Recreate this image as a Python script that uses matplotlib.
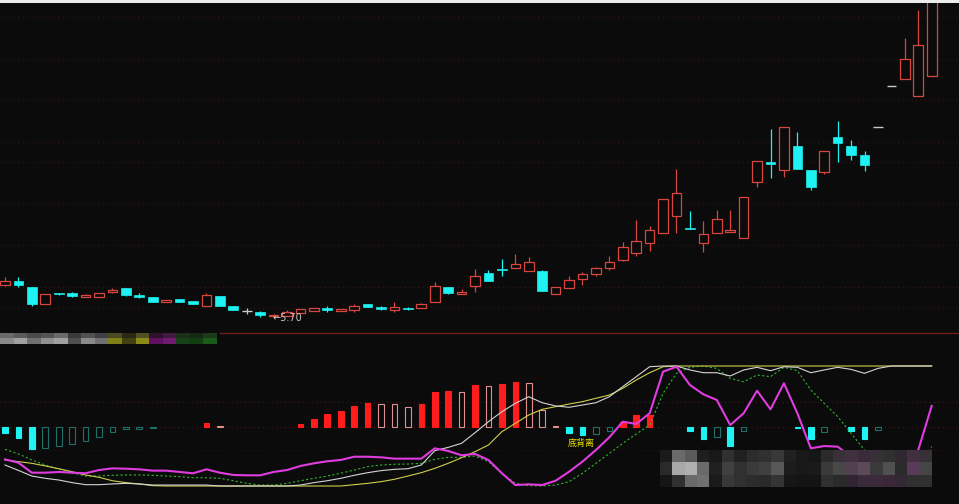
import numpy as np
import matplotlib.pyplot as plt
from matplotlib.patches import Rectangle
from matplotlib.lines import Line2D
from matplotlib.colors import to_rgb

# daily k-line data
opens = [6.02, 6.06, 6.00, 5.83, 5.94, 5.94, 5.90, 5.90, 5.95, 5.99,
         5.92, 5.90, 5.85, 5.88, 5.86, 5.82, 5.91, 5.82, 5.77, 5.76,
         5.72, 5.72, 5.75, 5.77, 5.80, 5.77, 5.78, 5.83, 5.81, 5.78,
         5.80, 5.80, 5.85, 6.00, 5.93, 6.01, 6.13, 6.17, 6.18, 6.15,
         6.15, 5.93, 5.99, 6.08, 6.12, 6.18, 6.26, 6.33, 6.42, 6.52,
         6.68, 6.57, 6.42, 6.52, 6.53, 6.47, 7.01, 7.20, 7.13, 7.36,
         7.13, 7.11, 7.44, 7.36, 7.27, 7.54, 7.94, 8.00, 7.84, 8.03]
closes = [6.06, 6.02, 5.83, 5.93, 5.93, 5.91, 5.92, 5.94, 5.97, 5.92,
          5.90, 5.85, 5.87, 5.85, 5.83, 5.92, 5.82, 5.78, 5.77, 5.73,
          5.73, 5.76, 5.79, 5.80, 5.78, 5.79, 5.82, 5.81, 5.79, 5.81,
          5.79, 5.83, 6.01, 5.94, 5.95, 6.10, 6.06, 6.16, 6.22, 6.24,
          5.96, 6.00, 6.07, 6.12, 6.18, 6.24, 6.38, 6.44, 6.55, 6.85,
          6.90, 6.56, 6.51, 6.65, 6.55, 6.87, 7.21, 7.18, 7.54, 7.14,
          6.96, 7.31, 7.39, 7.27, 7.17, 7.54, 7.94, 8.20, 8.33, 8.80]
highs = [6.09, 6.09, 6.00, 5.93, 5.94, 5.95, 5.93, 5.94, 5.99, 5.99,
         5.94, 5.90, 5.87, 5.88, 5.86, 5.94, 5.91, 5.82, 5.80, 5.77,
         5.74, 5.78, 5.79, 5.80, 5.82, 5.79, 5.83, 5.83, 5.82, 5.85,
         5.81, 5.84, 6.05, 6.00, 5.98, 6.17, 6.16, 6.27, 6.32, 6.29,
         6.16, 6.00, 6.10, 6.14, 6.19, 6.30, 6.43, 6.64, 6.59, 6.85,
         7.14, 6.73, 6.63, 6.74, 6.74, 6.87, 7.21, 7.52, 7.54, 7.49,
         7.13, 7.31, 7.60, 7.42, 7.31, 7.54, 7.94, 8.40, 8.67, 8.85]
lows = [6.01, 6.00, 5.82, 5.83, 5.92, 5.90, 5.90, 5.90, 5.94, 5.91,
        5.89, 5.85, 5.85, 5.85, 5.83, 5.82, 5.82, 5.78, 5.74, 5.71,
        5.70, 5.72, 5.75, 5.77, 5.76, 5.77, 5.76, 5.81, 5.78, 5.76,
        5.78, 5.80, 5.85, 5.93, 5.93, 5.95, 6.06, 6.10, 6.18, 6.15,
        5.96, 5.93, 5.99, 6.02, 6.10, 6.16, 6.25, 6.30, 6.35, 6.52,
        6.52, 6.56, 6.34, 6.52, 6.53, 6.47, 6.96, 7.05, 7.06, 7.14,
        6.93, 7.09, 7.20, 7.22, 7.12, 7.54, 7.94, 8.00, 7.84, 8.03]
price_grid = [5.8, 6.0, 6.4, 6.8, 7.2, 7.4, 7.8, 8.2, 8.6]

# indicator histogram (0 = no bar)
hist = [-0.06, -0.11, -0.215, -0.21, -0.19, -0.17, -0.14, -0.10, -0.05, -0.02,
        -0.015, -0.01, 0, 0, 0, 0.04, 0.01, 0, 0, 0,
        0, 0, 0.035, 0.08, 0.13, 0.16, 0.21, 0.24, 0.235, 0.232,
        0.20, 0.23, 0.355, 0.36, 0.35, 0.42, 0.41, 0.43, 0.45, 0.44,
        0.17, 0.01, -0.055, -0.075, -0.065, -0.04, 0.055, 0.12, 0.125, 0,
        0, -0.04, -0.12, -0.10, -0.19, -0.04, 0, 0, 0, -0.01,
        -0.12, -0.05, 0, -0.035, -0.12, -0.025, 0, 0, 0, 0]

# indicator lines, 0-100 scale
pink_line = [22.2, 19.4, 11.1, 11.1, 11.7, 11.1, 10.6, 13.3, 14.7, 14.4,
             13.9, 12.8, 12.8, 11.7, 10.6, 13.9, 11.1, 9.2, 8.9, 8.9,
             11.7, 13.3, 16.7, 18.9, 20.6, 21.7, 24.4, 24.4, 23.9, 22.8,
             22.8, 22.8, 31.4, 29.2, 25.6, 26.7, 21.7, 10.6, 0.8, 1.4,
             0.8, 4.4, 11.9, 20.3, 30.0, 40.6, 53.6, 51.7, 60.6, 95.3,
             99.4, 84.2, 76.4, 71.7, 50.8, 60.6, 79.4, 63.9, 85.6, 60.6,
             31.4, 33.3, 32.8, 24.4, 12.0, 6.0, 3.0, 2.0, 30.0, 66.7]
white_line = [17.5, 13.0, 8.3, 6.4, 5.0, 2.8, 1.1, 1.1, 1.7, 2.2,
              1.7, 0.8, 0.8, 0.8, 0.8, 0.8, 0.0, 0.0, 0.0, 0.0,
              0.0, 0.0, 0.8, 2.8, 4.4, 6.4, 8.9, 11.1, 12.8, 13.9,
              14.4, 17.5, 29.4, 32.2, 35.6, 44.4, 53.6, 61.9, 68.9, 74.4,
              69.4, 66.7, 65.6, 67.5, 69.4, 74.4, 82.8, 91.1, 99.4, 100,
              100, 96.7, 94.4, 94.4, 91.7, 96.7, 98.9, 96.1, 99.4, 98.9,
              94.4, 96.7, 98.9, 97.2, 93.9, 98.0, 100, 100, 100, 100]
yellow_line = [21.7, 20.3, 18.9, 16.7, 14.4, 11.9, 9.2, 7.2, 4.4, 2.8,
               1.7, 0.3, 0, 0, 0, 0, 0, 0, 0, 0,
               0, 0, 0, 0, 0, 0, 1.1, 2.2, 3.6, 5.6,
               8.3, 11.1, 14.7, 18.9, 23.6, 28.6, 34.2, 45.3, 52.2, 59.2,
               63.9, 66.1, 68.3, 70.3, 73.1, 75.8, 81.4, 88.3, 94.4, 99.4,
               100, 100, 100, 100, 100, 100, 100, 100, 100, 100,
               100, 100, 100, 100, 100, 100, 100, 100, 100, 100]
green_line = [30.6, 26.7, 21.7, 17.5, 13.9, 11.1, 8.3, 8.3, 8.9, 9.2,
              9.2, 8.9, 8.3, 7.8, 6.9, 6.9, 6.4, 4.4, 2.2, 0.8,
              0.8, 2.2, 4.4, 6.4, 8.3, 10.6, 13.3, 16.1, 17.5, 18.1,
              18.3, 18.9, 22.2, 23.9, 23.9, 25.0, 20.3, 10.6, 2.2, 0.3,
              0.0, 0.8, 3.6, 10.6, 18.9, 27.2, 35.6, 43.3, 50.8, 77.2,
              93.9, 98.9, 100, 98.0, 89.7, 86.9, 92.5, 91.1, 98.9, 96.1,
              80.0, 68.9, 57.8, 43.9, 30.0, 18.9, 10.0, 8.0, 10.0, 32.8]
signal_day = 42.9
signal_text = '底背离'

W, H = 959, 504
BG = '#0b0b0b'
RED = '#d8463f'
CYAN = '#1ef2f2'
FLAT = '#c8c8c8'
GRID = '#3c1616'
XLIM = (-0.372, 71.035)


def px_rect(x0, y0, x1, y1):
    # pixel box measured from the top-left corner -> figure fraction
    return [x0 / W, 1 - y1 / H, (x1 - x0) / W, (y1 - y0) / H]


def bare(a):
    a.set_xticks([])
    a.set_yticks([])
    for s in a.spines.values():
        s.set_visible(False)


fig = plt.figure(figsize=(W / 100, H / 100), dpi=100, facecolor='#ececec')

# ---- price panel ----
ax = fig.add_axes(px_rect(0, 3, W, 333))
ax.set_facecolor(BG)
bare(ax)
ax.set_xlim(*XLIM)
ax.set_ylim(5.555, 8.736)
for p in price_grid:
    ax.axhline(p, color=GRID, lw=0.8, ls=(0, (1, 3)), zorder=0)

bw = 0.72
for i, (o, c, h, l) in enumerate(zip(opens, closes, highs, lows)):
    if c > o:
        ax.vlines(i, c, h, color=RED, lw=0.9)
        ax.vlines(i, l, o, color=RED, lw=0.9)
        ax.add_patch(Rectangle((i - bw / 2, o), bw, c - o, facecolor=BG,
                               edgecolor=RED, lw=0.9))
    elif c < o:
        ax.vlines(i, l, h, color=CYAN, lw=0.9)
        ax.add_patch(Rectangle((i - bw / 2, c), bw, o - c, facecolor=CYAN,
                               edgecolor=CYAN, lw=0.5))
    else:
        ax.hlines(o, i - bw / 2, i + bw / 2, color=FLAT, lw=1.0)
        if h > l:
            ax.vlines(i, l, h, color=FLAT, lw=0.9)

low_i = int(np.argmin(lows))
ax.text(low_i - 0.08, lows[low_i], f'\u2190{lows[low_i]:.2f}', color='#c8c8c8',
        fontsize=7, ha='left', va='center')

# ---- indicator panel ----
axb = fig.add_axes(px_rect(0, 333, W, H))
axb.set_facecolor(BG)
bare(axb)
axb.set_xlim(*XLIM)
axb.set_ylim(-0.77, 0.94)
for g, col in [(0.49, '#241010'), (0.25, '#4a1616'), (0.0, '#4a1616'),
               (-0.23, '#2e1212'), (-0.47, '#241010')]:
    axb.axhline(g, color=col, lw=0.8, ls=(0, (1, 3)), zorder=0)

hw = 0.42
prev = 0
for i, v in enumerate(hist):
    if v != 0:
        solid = prev == 0 or (prev > 0) != (v > 0) or abs(v) >= abs(prev)
        if v > 0:
            fc, ec = ('#ff1c1c', '#ff1c1c') if solid else (BG, '#e09090')
        else:
            fc, ec = (CYAN, CYAN) if solid else (BG, '#1f7068')
        axb.add_patch(Rectangle((i - hw / 2, 0), hw, v, facecolor=fc,
                                edgecolor=ec, lw=0.8))
    prev = v

axl = axb.twinx()
bare(axl)
axl.set_xlim(*XLIM)
axl.set_ylim(-15, 127.5)
days = np.arange(len(pink_line))
axl.plot(days, green_line, color='#2fb42f', lw=0.8, ls=(0, (2, 2)))
axl.plot(days, yellow_line, color='#cfcf4a', lw=0.8)
axl.plot(days, white_line, color='#d4d4d4', lw=0.8)
axl.plot(days, pink_line, color='#e03ce0', lw=1.5)
axl.text(signal_day, 35.4, signal_text, color='#e6e000', fontsize=6.5,
         ha='center', va='center', family=['Noto Sans CJK SC', 'DejaVu Sans'])

# panel separator
fig.add_artist(Line2D([220 / W, 1], [1 - 333 / H] * 2, color='#701c1c', lw=1))

# pixelated legend strips
strip_top = ['#6a6a6a', '#5a5a5a', '#4a4a4a', '#555555', '#6a6a6a', '#3a3a3a',
             '#505050', '#404040', '#4a4a20', '#2a2a14', '#505020', '#301030',
             '#401a40', '#1a301a', '#142814', '#1a3a1a']
strip_bot = ['#8a8a8a', '#a0a0a0', '#707070', '#909090', '#a0a0a0', '#505050',
             '#8a8a8a', '#707070', '#808018', '#404010', '#8a8a18', '#601060',
             '#701a70', '#1a401a', '#104010', '#1a5a1a']
sa = fig.add_axes(px_rect(0, 333, 217, 344))
sa.imshow([[to_rgb(c) for c in strip_top], [to_rgb(c) for c in strip_bot]],
          aspect='auto', interpolation='nearest')
sa.axis('off')

blk = [
    ['#1a1a1a', '#6a6a6a', '#5a5a5a', '#1e1e1e', '#181818', '#303030', '#202020',
     '#2c2c2c', '#303030', '#383838', '#202020', '#181818', '#161616', '#2a2a2a',
     '#3a303a', '#403040', '#3a2a3a', '#383038', '#303030', '#302830', '#403040',
     '#383038'],
    ['#2a2a2a', '#a8a8a8', '#b0b0b0', '#6a6a6a', '#202020', '#404040', '#303030',
     '#3a3a3a', '#404040', '#585858', '#1c1c1c', '#181818', '#1a1a1a', '#3a3a3a',
     '#484848', '#504050', '#5a4a5a', '#3a3a3a', '#505050', '#2a2a2a', '#5a3a5a',
     '#454545'],
    ['#161616', '#303030', '#6a6a6a', '#707070', '#1a1a1a', '#383838', '#303030',
     '#2c2c2c', '#2a2a2a', '#343434', '#161616', '#141414', '#141414', '#303030',
     '#2a2a2a', '#302430', '#3a2a3a', '#3a2a3a', '#3a283a', '#342834', '#303030',
     '#303030'],
]
ma = fig.add_axes(px_rect(660, 450, 932, 487))
ma.imshow([[to_rgb(c) for c in row] for row in blk], aspect='auto',
          interpolation='nearest')
ma.axis('off')

fig.savefig('out.png', dpi=100, facecolor=fig.get_facecolor())
